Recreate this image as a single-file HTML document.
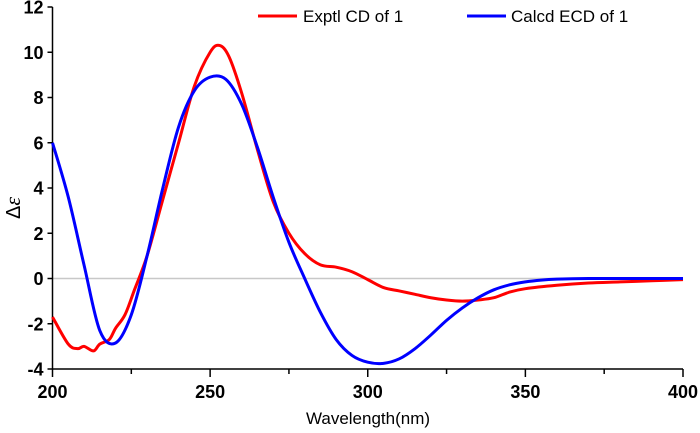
<!DOCTYPE html>
<html><head><meta charset="utf-8"><style>
html,body{margin:0;padding:0;background:#fff;}
svg{display:block;font-family:"Liberation Sans",Arial,sans-serif;}
</style></head><body>
<svg id="chart" width="700" height="433" viewBox="0 0 700 433"></svg>
<script>
const xTicks=[200,250,300,350,400];
const yTicks=[-4,-2,0,2,4,6,8,10,12];
const exptWl=[200,205,208,210,213,215,218,220,223,226,230,235,240,245,250,253,256,260,265,270,275,280,285,290,295,300,305,310,315,320,325,330,335,340,345,350,360,370,380,390,400];
const exptCd=[-1.7,-2.9,-3.1,-3.0,-3.2,-2.9,-2.7,-2.2,-1.6,-0.5,1.0,3.5,6.0,8.5,10.0,10.3,9.8,8.2,5.7,3.4,2.0,1.1,0.6,0.5,0.3,-0.05,-0.4,-0.55,-0.7,-0.85,-0.95,-1.0,-0.95,-0.85,-0.6,-0.45,-0.3,-0.2,-0.15,-0.1,-0.05];
const calcWl=[200,205,210,215,220,225,230,235,240,245,250,255,260,265,270,275,280,285,290,295,300,305,310,315,320,325,330,335,340,345,350,355,360,370,380,390,400];
const calcEcd=[6.0,3.6,0.6,-2.3,-2.85,-1.6,1.0,4.0,6.7,8.3,8.9,8.8,7.7,5.8,3.6,1.6,0.0,-1.5,-2.7,-3.4,-3.7,-3.75,-3.55,-3.1,-2.5,-1.85,-1.3,-0.85,-0.5,-0.28,-0.15,-0.07,-0.03,0,0,0,0];

const X0=52.5,X1=683,Y0=369,Y1=7;
const xs=v=>X0+(v-200)/(400-200)*(X1-X0);
const ys=v=>Y0-(v+4)/16*(Y0-Y1);
const svg=document.getElementById('chart');
const NS='http://www.w3.org/2000/svg';
function mk(t,a,p){const e=document.createElementNS(NS,t);for(const k in a)e.setAttribute(k,a[k]);(p||svg).appendChild(e);return e;}
function smooth(xa,ya){const p=xa.map((x,i)=>[xs(x),ys(ya[i])]);let d='M'+p[0][0]+','+p[0][1];
for(let i=0;i<p.length-1;i++){const a=p[i-1]||p[i],b=p[i],c=p[i+1],e=p[i+2]||c;
d+=' C'+(b[0]+(c[0]-a[0])/6)+','+(b[1]+(c[1]-a[1])/6)+' '+(c[0]-(e[0]-b[0])/6)+','+(c[1]-(e[1]-b[1])/6)+' '+c[0]+','+c[1];}return d;}

const zl=mk('line',{x1:X0,x2:X1,y1:ys(0),y2:ys(0),stroke:'#c8c8c8','stroke-width':1.5});



const ya=mk('line',{x1:X0,x2:X0,y1:Y1,y2:Y0,stroke:'#000','stroke-width':1.5});


const xa=mk('line',{x1:X0,x2:X1,y1:Y0,y2:Y0,stroke:'#000','stroke-width':1.5});



yTicks.forEach(v=>{
  const t=mk('line',{x1:X0-5,x2:X0,y1:ys(v),y2:ys(v),stroke:'#000','stroke-width':1.5});
  
  
  const l=mk('text',{x:X0-9,y:ys(v)+6.5,'text-anchor':'end','font-size':18,'font-weight':'bold'});
  l.textContent=v;
  
  
});
for(let v=200;v<=400;v+=25){
  const t=mk('line',{x1:xs(v),x2:xs(v),y1:Y0,y2:Y0+(v%50===0?8:5),stroke:'#000','stroke-width':1.5});
  
  
}
xTicks.forEach(v=>{
  const l=mk('text',{x:xs(v),y:398,'text-anchor':'middle','font-size':18,'font-weight':'bold'});
  l.textContent=v;
  
  
});
const xt=mk('text',{x:368,y:424,'text-anchor':'middle','font-size':17});
xt.textContent='Wavelength(nm)';


const yt=mk('text',{x:0,y:0,'text-anchor':'middle','font-size':20,transform:'translate(20,208) rotate(-90)'});
yt.innerHTML='Δ<tspan font-style="italic" font-family="Liberation Serif,serif" font-size="22">ε</tspan>';



const red=mk('path',{d:smooth(exptWl,exptCd),fill:'none',stroke:'#ff0000','stroke-width':3});


const blue=mk('path',{d:smooth(calcWl,calcEcd),fill:'none',stroke:'#0000ff','stroke-width':3});



const lg=mk('g',{});


const l1=mk('line',{x1:258,x2:297,y1:16,y2:16,stroke:'#ff0000','stroke-width':3},lg);


const t1=mk('text',{x:303,y:22,'font-size':17},lg);
t1.textContent='Exptl CD of 1';


const l2=mk('line',{x1:467,x2:506,y1:16,y2:16,stroke:'#0000ff','stroke-width':3},lg);


const t2=mk('text',{x:511,y:22,'font-size':17},lg);
t2.textContent='Calcd ECD of 1';


</script>
</body></html>
